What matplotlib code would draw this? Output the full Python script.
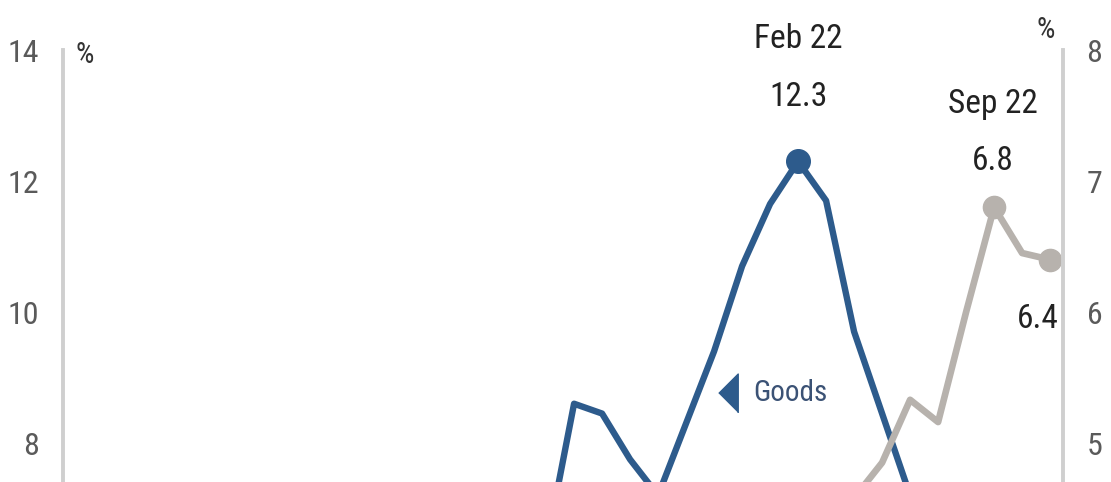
import matplotlib
matplotlib.use("Agg")
import matplotlib.pyplot as plt
import pandas as pd

plt.rcParams["font.family"] = ["Liberation Sans Narrow", "Roboto Condensed",
                               "Liberation Sans", "DejaVu Sans"]

# Inflation, % y/y (goods on left axis, services on right axis)
goods_months = ["May 21", "Jun 21", "Jul 21", "Aug 21", "Sep 21", "Oct 21", "Nov 21",
                "Dec 21", "Jan 22", "Feb 22", "Mar 22", "Apr 22", "May 22", "Jun 22"]
goods_vals = [6.4, 8.6, 8.45, 7.75, 7.2, 8.3, 9.4, 10.7, 11.65, 12.3, 11.7, 9.7, 8.45, 7.2]

services_months = ["Apr 22", "May 22", "Jun 22", "Jul 22", "Aug 22", "Sep 22",
                   "Oct 22", "Nov 22"]
services_vals = [4.58, 4.85, 5.33, 5.16, 6.0, 6.8, 6.45, 6.4]

left_ticks = [8, 10, 12, 14]
right_ticks = [5, 6, 7, 8]


def month_index(labels):
    d = pd.to_datetime(labels, format="%b %y")
    return (d.year - 2020) * 12 + d.month - 1


gx = month_index(goods_months)
sx = month_index(services_months)

BLUE = "#2d5b8c"
GREY = "#b7b2ad"
SPINE = "#cfcfcf"
TICK = "#5a5a5a"

fig = plt.figure(figsize=(11.11, 4.82), dpi=100)
ax = fig.add_axes([63 / 1111, 0, 1000 / 1111, 432 / 482])
ax2 = ax.twinx()

ax.plot(gx, goods_vals, color=BLUE, lw=4.6, solid_joinstyle="round")
ax2.plot(sx, services_vals, color=GREY, lw=4.8, solid_joinstyle="round")

# highlighted points
gpk = goods_vals.index(max(goods_vals))
ax.plot(gx[gpk], goods_vals[gpk], "o", color=BLUE, ms=17, clip_on=False)
spk = services_vals.index(max(services_vals))
ax2.plot(sx[spk], services_vals[spk], "o", color=GREY, ms=16, clip_on=False)
ax2.plot(sx[-1], services_vals[-1], "o", color=GREY, ms=16, clip_on=False)

ax.set_xlim(-1.25, 34.46)
ax.set_ylim(7.405, 14)
ax2.set_ylim(4.7025, 8)
ax.set_yticks(left_ticks)
ax2.set_yticks(right_ticks)
ax.set_xticks([])

for a in (ax, ax2):
    for s in a.spines.values():
        s.set_visible(False)
    a.tick_params(axis="y", length=0, labelsize=23, labelcolor=TICK, pad=17)
ax.spines["left"].set_visible(True)
ax.spines["left"].set_color(SPINE)
ax.spines["left"].set_linewidth(2.8)
ax2.spines["right"].set_visible(True)
ax2.spines["right"].set_color(SPINE)
ax2.spines["right"].set_linewidth(2.8)

# unit labels
fig.text(85 / 1111, 1 - 55 / 482, "%", fontsize=21, color="#333333", ha="center", va="center")
fig.text(1046 / 1111, 1 - 30 / 482, "%", fontsize=21, color="#333333", ha="center", va="center")

# value callouts
txt = dict(fontsize=24, color="#222222", ha="center", va="center",
           textcoords="offset points", annotation_clip=False)
ax.annotate(f"{goods_vals[gpk]:.1f}", (gx[gpk], goods_vals[gpk]), xytext=(0, 46), **txt)
ax.annotate(goods_months[gpk], (gx[gpk], goods_vals[gpk]), xytext=(0, 88), **txt)
ax2.annotate(f"{services_vals[spk]:.1f}", (sx[spk], services_vals[spk]), xytext=(-1, 33), **txt)
ax2.annotate(services_months[spk], (sx[spk], services_vals[spk]), xytext=(-1, 74), **txt)
txt["ha"] = "right"
ax2.annotate(f"{services_vals[-1]:.1f}", (sx[-1], services_vals[-1]), xytext=(6, -43), **txt)

# series label
ax.plot(22.5, 8.76, marker=[(-0.5, 0), (0.5, 1), (0.5, -1)], ms=28, color=BLUE, ls="none")
ax.text(23.4, 8.76, "Goods", fontsize=21, color="#3b5275", ha="left", va="center")

fig.savefig("out.png", dpi=100)
